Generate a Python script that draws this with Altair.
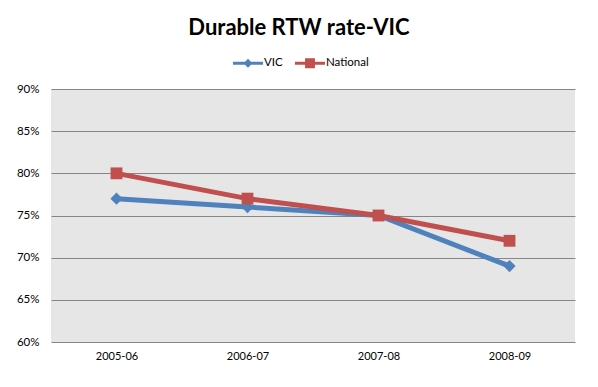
import altair as alt
import pandas as pd

periods = ["2005-06", "2006-07", "2007-08", "2008-09"]
vic = [0.77, 0.76, 0.75, 0.69]
national = [0.80, 0.77, 0.75, 0.72]
series_names = ["VIC", "National"]
series_colors = ["#4F81BD", "#C0504D"]
y_ticks = [0.60, 0.65, 0.70, 0.75, 0.80, 0.85, 0.90]

rows = []
for p, v in zip(periods, vic):
    rows.append({"Period": p, "Series": "VIC", "Value": v})
for p, v in zip(periods, national):
    rows.append({"Period": p, "Series": "National", "Value": v})
df = pd.DataFrame(rows)

FONT = "Lato"

x_enc = alt.X("Period:N", sort=periods, title=None,
              scale=alt.Scale(type="point", padding=0.5),
              axis=alt.Axis(labelAngle=0, ticks=False, domain=False, grid=False,
                            labelPadding=8, labelFontSize=11, labelColor="#000000",
                            labelFont=FONT))
y_enc = alt.Y("Value:Q", title=None,
              scale=alt.Scale(domain=[0.60, 0.90], nice=False, zero=False),
              axis=alt.Axis(values=y_ticks, format=".0%", ticks=False, domain=False,
                            grid=True, gridColor="#868686", gridWidth=1,
                            labelPadding=12, labelFontSize=11.5, labelColor="#000000",
                            labelFont=FONT))

def cscale():
    return alt.Scale(domain=series_names, range=series_colors)

base = alt.Chart(df)

lines = base.mark_line(strokeWidth=5).encode(
    x=x_enc, y=y_enc,
    color=alt.Color("Series:N", scale=cscale(), legend=None),
    detail="Series:N",
)

vic_pts = base.transform_filter(alt.datum.Series == "VIC").mark_point(
    shape="diamond", filled=True, size=150, opacity=1
).encode(x=x_enc, y=y_enc, color=alt.Color("Series:N", scale=cscale(), legend=None))

nat_pts = base.transform_filter(alt.datum.Series == "National").mark_point(
    shape="square", filled=True, size=140, opacity=1
).encode(x=x_enc, y=y_enc, color=alt.Color("Series:N", scale=cscale(), legend=None))

legend_shapes = [
    "M-1,-0.1H1V0.1H-1Z M0,-0.3L0.3,0L0,0.3L-0.3,0Z",
    "M-1,-0.1H1V0.1H-1Z M-0.33,-0.33H0.33V0.33H-0.33Z",
]

leg = alt.Legend(title=None, orient="none", direction="horizontal",
                 legendX=182, legendY=-41, symbolSize=900,
                 symbolOpacity=1, labelFontSize=11.5, labelFont=FONT,
                 labelColor="#000000", columnPadding=12,
                 labelOffset=1, symbolStrokeWidth=0)

legend_layer = base.transform_filter(alt.datum.Value < 0).mark_point(
    filled=True, opacity=1
).encode(
    x=x_enc, y=y_enc,
    color=alt.Color("Series:N", scale=cscale(), legend=leg),
    shape=alt.Shape("Series:N", scale=alt.Scale(domain=series_names, range=legend_shapes),
                    legend=leg),
)

chart = alt.layer(lines, vic_pts, nat_pts, legend_layer).resolve_scale(
    color="independent", shape="independent"
).properties(
    width=524,
    height=253,
    title=alt.TitleParams("Durable RTW rate-VIC", font=FONT, fontSize=22,
                          fontWeight="bold", color="#000000", dx=-14, offset=8),
    autosize=alt.AutoSizeParams(type="none"),
    padding={"left": 43, "top": 81, "right": 15, "bottom": 35},
).configure(background="#FFFFFF").configure_view(
    fill="#E6E6E6", stroke=None
)

chart.save("out.html", embed_options={"renderer": "svg", "actions": False})
